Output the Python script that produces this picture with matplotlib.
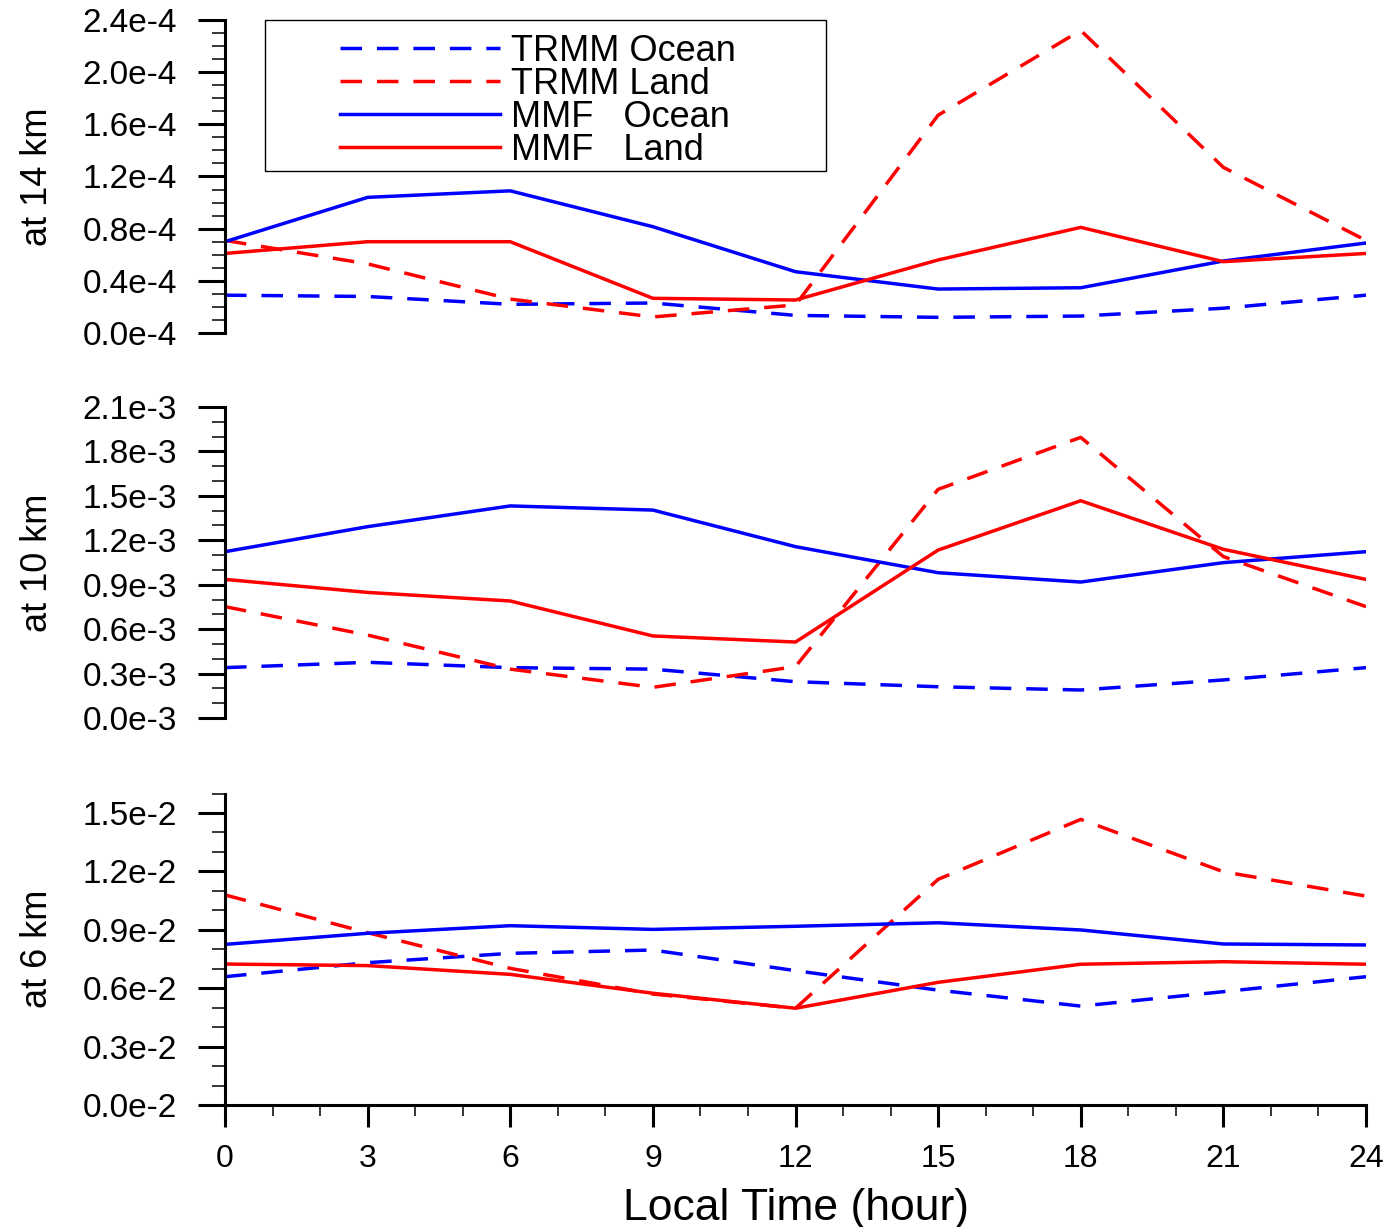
import matplotlib
matplotlib.use('Agg')
import numpy as np
import matplotlib.pyplot as plt
from matplotlib.ticker import FuncFormatter
from matplotlib.patches import Rectangle

# ---------------- data ----------------
hours = [0, 3, 6, 9, 12, 15, 18, 21, 24]

# 14 km panel (units of 1e-4)
trmm_ocean_14 = [0.29, 0.28, 0.22, 0.23, 0.135, 0.12, 0.13, 0.19, 0.29]
trmm_land_14 = [0.71, 0.53, 0.26, 0.123, 0.215, 1.67, 2.32, 1.27, 0.71]
mmf_ocean_14 = [0.70, 1.04, 1.09, 0.815, 0.47, 0.337, 0.347, 0.552, 0.69]
mmf_land_14 = [0.61, 0.70, 0.70, 0.266, 0.253, 0.56, 0.81, 0.547, 0.61]

# 10 km panel (units of 1e-3)
trmm_ocean_10 = [0.34, 0.376, 0.34, 0.33, 0.245, 0.211, 0.189, 0.257, 0.34]
trmm_land_10 = [0.752, 0.56, 0.33, 0.207, 0.347, 1.544, 1.895, 1.09, 0.752]
mmf_ocean_10 = [1.123, 1.292, 1.432, 1.404, 1.157, 0.981, 0.918, 1.049, 1.123]
mmf_land_10 = [0.936, 0.848, 0.79, 0.554, 0.513, 1.134, 1.467, 1.139, 0.936]

# 6 km panel (units of 1e-2)
trmm_ocean_6 = [0.659, 0.731, 0.779, 0.796, 0.69, 0.59, 0.508, 0.582, 0.659]
trmm_land_6 = [1.079, 0.885, 0.702, 0.570, 0.497, 1.159, 1.467, 1.198, 1.073]
mmf_ocean_6 = [0.825, 0.882, 0.921, 0.902, 0.918, 0.936, 0.899, 0.827, 0.822]
mmf_land_6 = [0.724, 0.716, 0.671, 0.574, 0.497, 0.630, 0.723, 0.736, 0.723]

series_labels = ['TRMM Ocean', 'TRMM Land', 'MMF   Ocean', 'MMF   Land']
panel_labels = ['at 14 km', 'at 10 km', 'at 6 km']
panel_exponents = [-4, -3, -2]
panel_ymax = [2.4, 2.1, 1.6]
panel_ystep = [0.4, 0.3, 0.3]
panel_ytick_max = [2.4, 2.1, 1.5]
xticks = [0, 3, 6, 9, 12, 15, 18, 21, 24]
xlabel = 'Local Time (hour)'

panel_data = [
    [trmm_ocean_14, trmm_land_14, mmf_ocean_14, mmf_land_14],
    [trmm_ocean_10, trmm_land_10, mmf_ocean_10, mmf_land_10],
    [trmm_ocean_6, trmm_land_6, mmf_ocean_6, mmf_land_6],
]

# ---------------- style ----------------
plt.rcParams['font.family'] = ['Liberation Sans', 'DejaVu Sans']
colors = ['#0000ff', '#ff0000', '#0000ff', '#ff0000']
styles = ['dashed', 'dashed', 'solid', 'solid']
LW = 2.5
DASH = (6.2, 4.3)

FW, FH = 1389, 1227
fig = plt.figure(figsize=(FW / 100, FH / 100), dpi=100)

left_px, right_px = 225, 1366
panel_px = [(20, 333), (407, 718), (793.5, 1105)]

for i, (top, bot) in enumerate(panel_px):
    ax = fig.add_axes([left_px / FW, 1 - bot / FH, (right_px - left_px) / FW, (bot - top) / FH])
    scale = 10.0 ** panel_exponents[i]
    exp = panel_exponents[i]
    handles = []
    for vals, c, ls in zip(panel_data[i], colors, styles):
        y = np.array(vals) * scale
        if ls == 'dashed':
            ln, = ax.plot(hours, y, color=c, lw=LW, dashes=DASH, dash_capstyle='butt')
        else:
            ln, = ax.plot(hours, y, color=c, lw=LW)
        handles.append(ln)

    ax.set_xlim(0, 24)
    ax.set_ylim(0, panel_ymax[i] * scale)
    n_major = int(round(panel_ytick_max[i] / panel_ystep[i]))
    ax.set_yticks([k * panel_ystep[i] * scale for k in range(n_major + 1)])
    n_minor = int(round(panel_ymax[i] / 0.1))
    ax.set_yticks([k * 0.1 * scale for k in range(n_minor + 1)], minor=True)
    ax.yaxis.set_major_formatter(FuncFormatter(lambda v, p, s=scale, e=exp: f"{v / s:.1f}e{e}"))

    for s in ['top', 'right']:
        ax.spines[s].set_visible(False)
    ax.spines['left'].set_linewidth(2.2)
    ax.tick_params(axis='y', which='major', direction='out', length=19.4, width=2.2,
                   labelsize=24, pad=15)
    ax.tick_params(axis='y', which='minor', direction='out', length=9.5, width=1.1)

    if i < 2:
        ax.spines['bottom'].set_visible(False)
        ax.tick_params(axis='x', which='both', bottom=False, labelbottom=False)
    else:
        ax.spines['bottom'].set_linewidth(2.2)
        ax.set_xticks(xticks)
        ax.set_xticks(range(0, 25), minor=True)
        ax.tick_params(axis='x', which='major', direction='out', length=16, width=2.2,
                       labelsize=23, pad=12)
        ax.tick_params(axis='x', which='minor', direction='out', length=8, width=1.1)
        ax.set_xlabel(xlabel, fontsize=32)
        ax.xaxis.set_label_coords(0.5, -0.265)

    ax.set_ylabel(panel_labels[i], fontsize=26)
    ax.yaxis.set_label_coords(-0.149, 0.5)

    if i == 0:
        ax.add_patch(Rectangle((40 / 1141, (333 - 171) / 313), (826 - 265) / 1141, 151 / 313,
                               transform=ax.transAxes, fill=False, lw=1.0, ec='black',
                               clip_on=False, zorder=5))
        ax.legend(handles, series_labels, loc='upper left', bbox_to_anchor=(0.1008, 0.955),
                  frameon=False, fontsize=26, handlelength=4.43, handletextpad=0.3,
                  labelspacing=-0.06, borderpad=0, borderaxespad=0)

fig.savefig('out.png', dpi=100)
